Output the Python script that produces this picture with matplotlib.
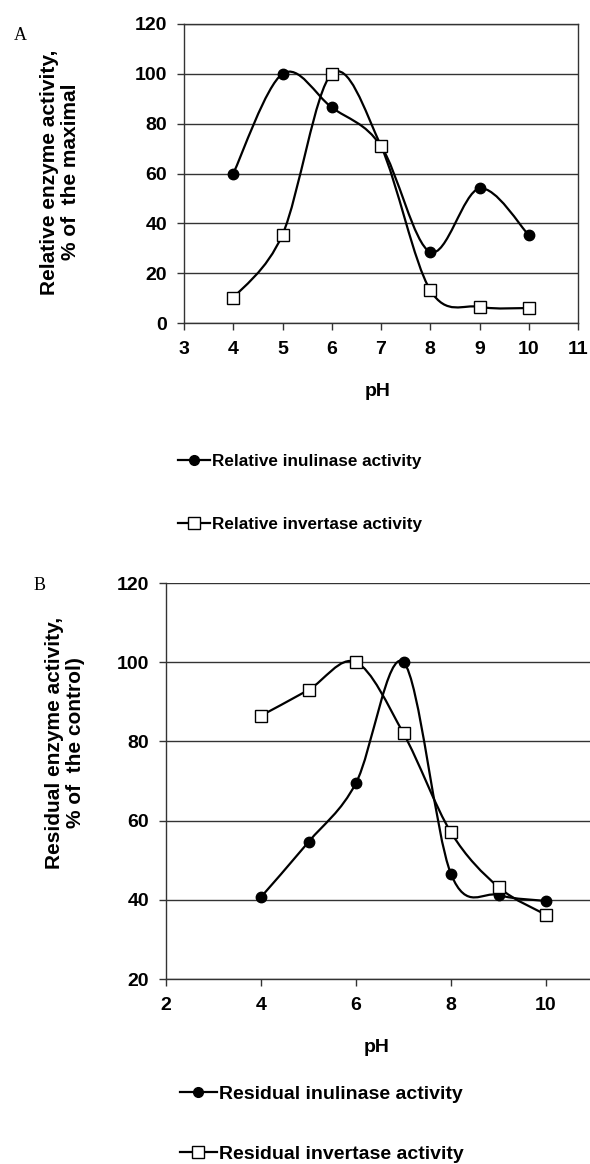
import numpy as np
import matplotlib
matplotlib.use("Agg")
import matplotlib.pyplot as plt
from matplotlib.path import Path
from matplotlib.patches import PathPatch
from matplotlib.lines import Line2D

plt.rcParams['font.family'] = ['Liberation Sans', 'DejaVu Sans']

# panel A - optimum pH
ph_a = [4, 5, 6, 7, 8, 9, 10]
inulinase_a = [60, 100, 86.5, 71, 28.5, 54, 35.3]
invertase_a = [10, 35.5, 100, 71, 13.2, 6.5, 6.0]

# panel B - pH stability
ph_b = [4, 5, 6, 7, 8, 9, 10]
inulinase_b = [40.7, 54.6, 69.5, 100, 46.5, 41.2, 39.7]
invertase_b = [86.5, 93.0, 100, 82.0, 57.0, 43.2, 36.2]

labels_a = ['Relative inulinase activity', 'Relative invertase activity']
labels_b = ['Residual inulinase activity', 'Residual invertase activity']


def smooth_path(x, y):
    # excel-like smoothed line: cubic bezier segments (catmull-rom control points)
    p = np.column_stack([x, y]).astype(float)
    n = len(p)
    verts = [p[0]]
    codes = [Path.MOVETO]
    for i in range(n - 1):
        p0 = p[i - 1] if i > 0 else p[i]
        p3 = p[i + 2] if i + 2 < n else p[i + 1]
        c1 = p[i] + (p[i + 1] - p0) / 6.0
        c2 = p[i + 1] - (p3 - p[i]) / 6.0
        verts += [c1, c2, p[i + 1]]
        codes += [Path.CURVE4] * 3
    return Path(verts, codes)


def draw_series(ax, x, y, marker, face):
    ax.add_patch(PathPatch(smooth_path(x, y), facecolor='none', edgecolor='black',
                           lw=1.6, zorder=3))
    ax.plot(x, y, linestyle='none', marker=marker, ms=8.5 if marker == 's' else 7.5,
            mfc=face, mec='black', mew=1.0, zorder=4, clip_on=False)


def style_axes(ax):
    ax.yaxis.grid(True, color='#333333', lw=1.0)
    ax.set_axisbelow(True)
    for s in ax.spines.values():
        s.set_color('#333333')
        s.set_linewidth(1.0)
    ax.tick_params(direction='out', length=5, width=1.0, color='#333333')
    ax.tick_params(axis='x', pad=8)
    ax.tick_params(axis='y', pad=7)
    for t in ax.get_xticklabels() + ax.get_yticklabels():
        t.set_fontsize(14)
        t.set_fontweight('bold')


fig = plt.figure(figsize=(5.9, 11.64), dpi=100)
lab_font = dict(fontsize=14, fontweight='bold')

# ---------------- panel A ----------------
axA = fig.add_axes([184 / 590, 1 - 323 / 1164, (578 - 184) / 590, (323 - 24) / 1164])
draw_series(axA, ph_a, inulinase_a, 'o', 'black')
draw_series(axA, ph_a, invertase_a, 's', 'white')
axA.set_xlim(3, 11)
axA.set_ylim(0, 120)
axA.set_xticks(range(3, 12))
axA.set_yticks(range(0, 121, 20))
style_axes(axA)
fig.text(378 / 590, 1 - 392 / 1164, 'pH', ha='center', va='center', **lab_font)
fig.text(60 / 590, 1 - 172 / 1164, 'Relative enzyme activity,\n% of  the maximal',
         rotation=90, ha='center', va='center', fontsize=15, fontweight='bold',
         linespacing=1.1)
fig.text(20 / 590, 1 - 35 / 1164, 'A', ha='center', va='center', fontsize=13,
         family='Liberation Serif')

hA = [Line2D([], [], color='black', lw=1.6, marker='o', ms=7, mfc='black', mec='black'),
      Line2D([], [], color='black', lw=1.6, marker='s', ms=8, mfc='white', mec='black')]
fig.legend(hA, labels_a, loc='upper left', bbox_to_anchor=(178 / 590, 1 - 454 / 1164),
           frameon=False, handlelength=1.9, handletextpad=0.1, labelspacing=2.8,
           prop=dict(size=12.3, weight='bold'), borderpad=0, borderaxespad=0)

# ---------------- panel B ----------------
axB = fig.add_axes([166 / 590, 1 - 979 / 1164, (590 - 166) / 590, (979 - 583) / 1164])
draw_series(axB, ph_b, inulinase_b, 'o', 'black')
draw_series(axB, ph_b, invertase_b, 's', 'white')
axB.set_xlim(2, 2 + (590 - 166) / 47.5)
axB.set_ylim(20, 120)
axB.set_xticks(range(2, 11, 2))
axB.set_yticks(range(20, 121, 20))
axB.spines['right'].set_visible(False)
axB.spines['top'].set_visible(False)
style_axes(axB)
fig.text(377 / 590, 1 - 1048 / 1164, 'pH', ha='center', va='center', **lab_font)
fig.text(65 / 590, 1 - 743 / 1164, 'Residual enzyme activity,\n% of  the control)',
         rotation=90, ha='center', va='center', fontsize=15, fontweight='bold',
         linespacing=1.1)
fig.text(40 / 590, 1 - 586 / 1164, 'B', ha='center', va='center', fontsize=13,
         family='Liberation Serif')

hB = [Line2D([], [], color='black', lw=1.6, marker='o', ms=7, mfc='black', mec='black'),
      Line2D([], [], color='black', lw=1.6, marker='s', ms=8, mfc='white', mec='black')]
fig.legend(hB, labels_b, loc='upper left', bbox_to_anchor=(180 / 590, 1 - 1085 / 1164),
           frameon=False, handlelength=1.9, handletextpad=0.1, labelspacing=2.2,
           prop=dict(size=14, weight='bold'), borderpad=0, borderaxespad=0)

fig.savefig('out.png', dpi=100)
